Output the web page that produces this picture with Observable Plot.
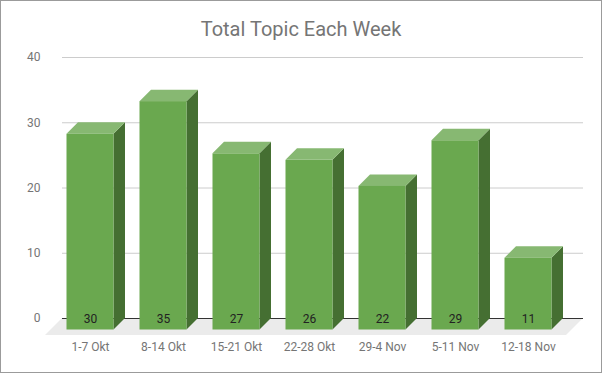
<!DOCTYPE html>
<html>
<head>
<meta charset="utf-8">
<script src="https://cdn.jsdelivr.net/npm/d3@7"></script>
<script src="https://cdn.jsdelivr.net/npm/@observablehq/plot@0.6"></script>
<style>
  html, body { margin: 0; padding: 0; background: #fff; }
  #wrap { position: relative; width: 602px; height: 373px; overflow: hidden; background: #fff; }
  #title { position: absolute; left: 0; top: 17px; width: 602px; text-align: center;
           font-family: Roboto, sans-serif; font-size: 20px; line-height: 24px; color: #757575; }
  #chart { position: absolute; left: 0; top: 0; }
  #border { position: absolute; left: 0; top: 0; width: 602px; height: 373px; box-sizing: border-box;
            border: 1px solid #9b9b9b; pointer-events: none; }
</style>
</head>
<body>
<div id="wrap">
  <div id="chart"></div>
  <div id="title">Total Topic Each Week</div>
  <div id="border"></div>
</div>
<script>
const weeks = ["1-7 Okt", "8-14 Okt", "15-21 Okt", "22-28 Okt", "29-4 Nov", "5-11 Nov", "12-18 Nov"];
const topics = [30, 35, 27, 26, 22, 29, 11];
const yTicks = [0, 10, 20, 30, 40];

const data = weeks.map((w, i) => ({week: w, value: topics[i]}));

const depth = 11.5;      // bar depth (px)
const floorDepth = 17;   // floor depth (px)
const frontColor = "#6aa84f";
const sideColor = "#456f32";
const topColor = "#87b872";

function floorMark(index, scales, values, dims) {
  const y0 = scales.y(0);
  const xl = dims.marginLeft, xr = dims.width - dims.marginRight;
  const g = d3.create("svg:g");
  g.append("polygon")
    .attr("points", [[xl, y0], [xr, y0], [xr - floorDepth, y0 + floorDepth], [xl - floorDepth, y0 + floorDepth]].map(p => p.join(",")).join(" "))
    .attr("fill", "#ebebeb");
  return g.node();
}

function facesMark(index, scales) {
  const x = scales.x, y = scales.y;
  const bw = x.bandwidth();
  const y0 = y(0);
  const g = d3.create("svg:g");
  for (const d of data) {
    const x0 = x(d.week), x1 = x0 + bw, yv = y(d.value);
    g.append("polygon")
      .attr("points", [[x1 - depth, yv + depth], [x1, yv], [x1, y0], [x1 - depth, y0 + depth]].map(p => p.join(",")).join(" "))
      .attr("fill", sideColor);
    g.append("polygon")
      .attr("points", [[x0 - depth, yv + depth], [x0, yv], [x1, yv], [x1 - depth, yv + depth]].map(p => p.join(",")).join(" "))
      .attr("fill", topColor);
  }
  return g.node();
}

const chart = Plot.plot({
  width: 602,
  height: 373,
  marginLeft: 62,
  marginRight: 19,
  marginTop: 57,
  marginBottom: 55,
  style: {fontFamily: "Roboto, sans-serif", fontSize: "12px", color: "#757575", background: "transparent"},
  x: {domain: weeks, paddingInner: 0.3525, paddingOuter: 0.242, align: 0.45, axis: null},
  y: {domain: [0, 40], ticks: yTicks, tickSize: 0, tickPadding: 22, label: null, tickFormat: d => String(d)},
  marks: [
    Plot.ruleY(yTicks.filter(t => t !== 0), {stroke: "#cccccc", strokeWidth: 1}),
    floorMark,
    Plot.ruleY([0], {stroke: "#333333", strokeWidth: 1}),
    facesMark,
    Plot.barY(data, {x: "week", y: "value", fill: frontColor, dx: -depth, dy: depth}),
    Plot.text(data, {x: "week", y: () => 0, text: d => String(d.value), dx: -depth, dy: 1, fill: "#222222", fontSize: 12, lineAnchor: "middle"}),
    Plot.text(data, {x: "week", y: () => 0, text: "week", dx: -depth, dy: 29, fill: "#757575", fontSize: 12, lineAnchor: "middle"})
  ]
});
document.getElementById("chart").appendChild(chart);
</script>
</body>
</html>
